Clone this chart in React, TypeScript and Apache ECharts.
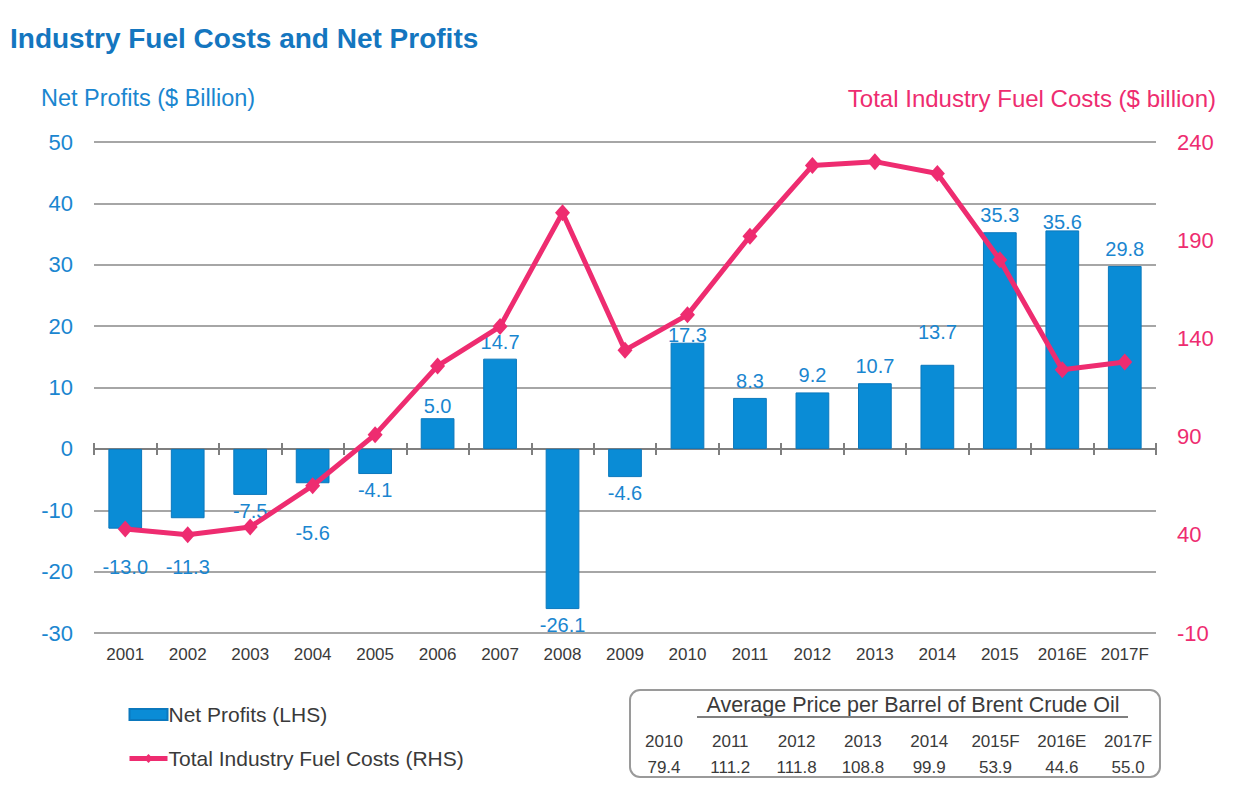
import React, { useEffect, useRef } from "react";
import * as echarts from "echarts";

const categories = ["2001", "2002", "2003", "2004", "2005", "2006", "2007", "2008", "2009", "2010", "2011", "2012", "2013", "2014", "2015", "2016E", "2017F"];
const netProfits = [-13.0, -11.3, -7.5, -5.6, -4.1, 5.0, 14.7, -26.1, -4.6, 17.3, 8.3, 9.2, 10.7, 13.7, 35.3, 35.6, 29.8];
const fuelCosts = [43, 40, 44, 65, 91, 126, 146, 204, 134, 152, 192, 228, 230, 224, 180, 124, 128];

const brentYears = ["2010", "2011", "2012", "2013", "2014", "2015F", "2016E", "2017F"];
const brentPrices = ["79.4", "111.2", "111.8", "108.8", "99.9", "53.9", "44.6", "55.0"];

const leftTicks = { min: -30, max: 50, interval: 10 };
const rightTicks = { min: -10, max: 240, interval: 50 };

// label nudges (style only) to mimic the reference's hand-placed labels
const labelNudge: Record<string, number> = {
  "2001": 22, "2002": 33, "2004": 34, "2006": 5, "2010": 9, "2014": -16, "2016E": 9,
};

const FONT = "Liberation Sans, Arial, sans-serif";
const BLUE = "#0a8cd6";
const PINK = "#ee2c70";
const LBLUE = "#1a86d0";
const GREY_TXT = "#3a3a3a";

export default function App() {
  const ref = useRef<HTMLDivElement>(null);
  useEffect(() => {
    document.body.style.margin = "0";
    const chart = echarts.init(ref.current!, null, { renderer: "svg" });

    const barData = netProfits.map((v, i) => {
      const neg = v < 0;
      const nudge = labelNudge[categories[i]] || 0;
      return {
        value: v,
        label: {
          show: true,
          position: neg ? "bottom" : "top",
          distance: neg ? 6 : 7,
          offset: [0, nudge],
          formatter: (p: any) => Number(p.value).toFixed(1),
        },
      };
    });

    const colStart = 664;
    const colStep = 66.3;
    const tableTexts: any[] = [];
    brentYears.forEach((y, i) => {
      tableTexts.push({
        type: "text", x: colStart + i * colStep, y: 741,
        style: { text: y, font: `17px ${FONT}`, fill: GREY_TXT, align: "center", verticalAlign: "middle" },
      });
      tableTexts.push({
        type: "text", x: colStart + i * colStep, y: 767,
        style: { text: brentPrices[i], font: `17px ${FONT}`, fill: GREY_TXT, align: "center", verticalAlign: "middle" },
      });
    });

    const tickStyle = { color: "#7f7f7f", width: 2 };

    chart.setOption({
      animation: false,
      textStyle: { fontFamily: FONT },
      grid: { left: 94, right: 82, top: 142, bottom: 174 },
      legend: {
        orient: "vertical",
        left: 122,
        top: 699,
        itemGap: 23,
        itemWidth: 38,
        itemHeight: 11,
        textStyle: { fontSize: 21, color: GREY_TXT, fontFamily: FONT, padding: [0, 0, 0, -4] },
        data: [
          { name: "Net Profits (LHS)", icon: "rect" },
          { name: "Total Industry Fuel Costs (RHS)", lineStyle: { width: 5 } },
        ],
      },
      xAxis: [
        {
          type: "category",
          data: categories,
          position: "bottom",
          axisLine: { show: false, onZero: false },
          axisTick: { show: false },
          axisLabel: { interval: 0, fontSize: 17, color: GREY_TXT, margin: 13, fontFamily: FONT },
        },
        {
          type: "category",
          data: categories,
          position: "bottom",
          axisLine: { show: true, onZero: true, onZeroAxisIndex: 0, lineStyle: tickStyle },
          axisTick: { show: true, interval: 0, inside: true, length: 6, lineStyle: tickStyle },
          axisLabel: { show: false },
        },
        {
          type: "category",
          data: categories,
          position: "bottom",
          axisLine: { show: true, onZero: true, onZeroAxisIndex: 0, lineStyle: { color: "#7f7f7f", width: 2, opacity: 0 } },
          axisTick: { show: true, interval: 0, inside: false, length: 6, lineStyle: tickStyle },
          axisLabel: { show: false },
        },
      ],
      yAxis: [
        {
          type: "value",
          min: leftTicks.min, max: leftTicks.max, interval: leftTicks.interval,
          axisLine: { show: false },
          axisTick: { show: false },
          splitLine: { show: true, lineStyle: { color: "#a6a6a6", width: 2 } },
          axisLabel: { fontSize: 22, color: LBLUE, margin: 21, fontFamily: FONT },
        },
        {
          type: "value",
          position: "right",
          min: rightTicks.min, max: rightTicks.max, interval: rightTicks.interval,
          axisLine: { show: false },
          axisTick: { show: false },
          splitLine: { show: false },
          axisLabel: { fontSize: 22, color: PINK, margin: 21, fontFamily: FONT },
        },
      ],
      series: [
        {
          name: "Net Profits (LHS)",
          type: "bar",
          xAxisIndex: 0,
          yAxisIndex: 0,
          data: barData,
          barWidth: "54%",
          itemStyle: { color: BLUE, borderColor: "#0b78bd", borderWidth: 1 },
          label: { color: LBLUE, fontSize: 20, fontFamily: FONT },
          z: 2,
        },
        {
          name: "Total Industry Fuel Costs (RHS)",
          type: "line",
          xAxisIndex: 0,
          yAxisIndex: 1,
          data: fuelCosts,
          symbol: "diamond",
          symbolSize: [15, 17],
          lineStyle: { color: PINK, width: 5 },
          itemStyle: { color: PINK },
          z: 5,
        },
      ],
      graphic: [
        {
          type: "text", x: 10, y: 38,
          style: { text: "Industry Fuel Costs and Net Profits", font: `bold 28px ${FONT}`, fill: "#1476bf", verticalAlign: "middle" },
        },
        {
          type: "text", x: 41, y: 98,
          style: { text: "Net Profits ($ Billion)", font: `23.5px ${FONT}`, fill: LBLUE, verticalAlign: "middle" },
        },
        {
          type: "text", x: 1216, y: 98,
          style: { text: "Total Industry Fuel Costs ($ billion)", font: `24px ${FONT}`, fill: PINK, align: "right", verticalAlign: "middle" },
        },
        {
          type: "rect",
          shape: { x: 630, y: 690, width: 530, height: 87, r: 10 },
          style: { fill: "#fff", stroke: "#9a9a9a", lineWidth: 2 },
          z: -1,
        },
        {
          type: "text", x: 913, y: 705,
          style: { text: "Average Price per Barrel of Brent Crude Oil", font: `21.5px ${FONT}`, fill: GREY_TXT, align: "center", verticalAlign: "middle" },
        },
        {
          type: "line",
          shape: { x1: 697, y1: 717, x2: 1128, y2: 717 },
          style: { stroke: "#7f7f7f", lineWidth: 2 },
        },
        ...tableTexts,
      ],
    });
    return () => chart.dispose();
  }, []);
  return <div ref={ref} style={{ width: 1238, height: 807 }} />;
}
